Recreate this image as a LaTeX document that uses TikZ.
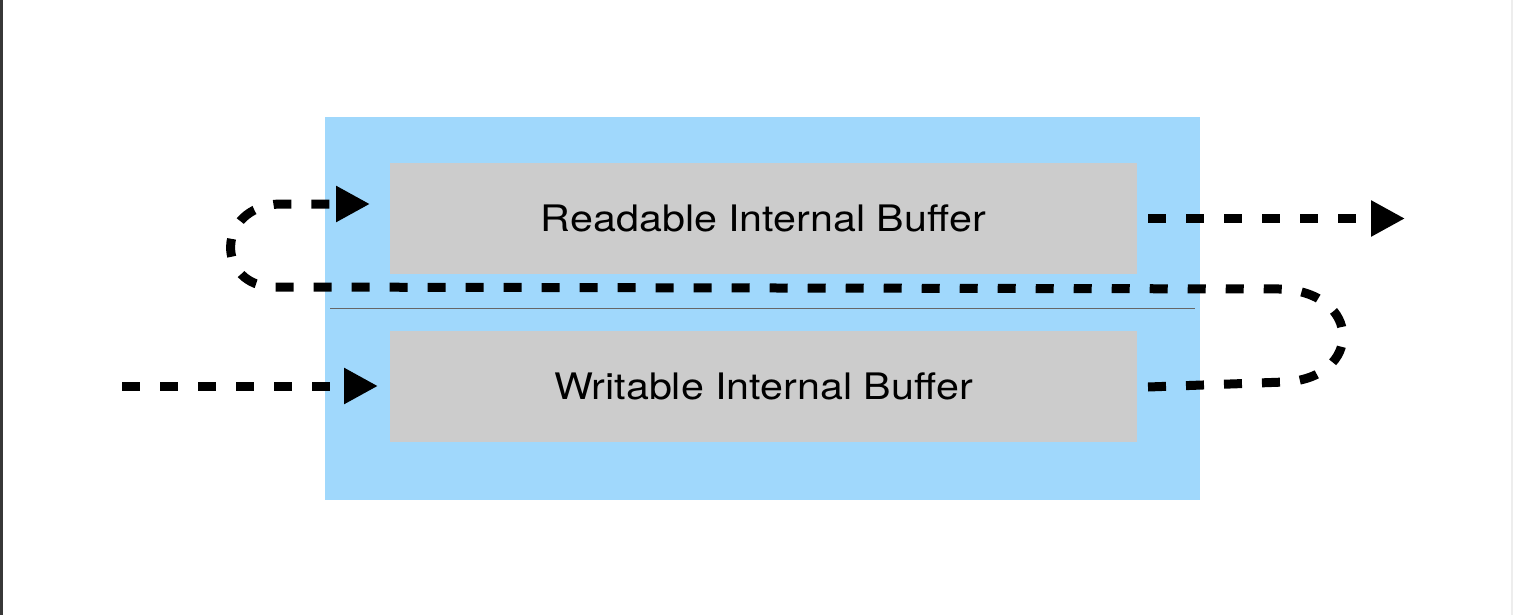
\documentclass[tikz,border=0pt]{standalone}
\usepackage{fontspec}
\setmainfont{TeX Gyre Heros}
\usetikzlibrary{arrows.meta}
\definecolor{skyfill}{RGB}{160,216,252}
\definecolor{buffgray}{RGB}{204,204,204}
\definecolor{edgedark}{RGB}{56,56,56}
\tikzset{
  bluebox/.style={rectangle, fill=skyfill, draw=none, outer sep=0pt, inner sep=0pt, minimum width=875pt, minimum height=383pt},
  buffbox/.style={rectangle, fill=buffgray, draw=none, outer sep=0pt, inner sep=0pt, minimum width=747pt, minimum height=111pt, font=\fontsize{36.5}{40}\selectfont, text=black},
  flowline/.style={line width=9pt, dash pattern=on 18pt off 20pt, black},
  flow/.style={flowline, -{Triangle[length=34pt,width=34pt]}},
  sepline/.style={line width=1pt, draw=black!60}
}
\begin{document}
\begin{tikzpicture}[x=1pt,y=-1pt]
\useasboundingbox (0,0) rectangle (1514,615);
\fill[white] (0,0) rectangle (1514,615);
\fill[edgedark] (0,0) rectangle (3,615);
\fill[black!7] (1511,0) rectangle (1513,615);
\node[bluebox] (outer) at (762.5,308.5) {};
\node[buffbox] (rd) at (763.5,218.5) {\scalebox{1.13}[1]{Readable Internal Buffer}};
\node[buffbox] (wr) at (763.5,386) {\scalebox{1.13}[1]{Writable Internal Buffer}};
\coordinate (s1) at (330,308);
\coordinate (s2) at (1195,308);
\draw[sepline] (s1) -- (s2);
\coordinate (inL) at (122,386);
\coordinate (outR) at (1405,218.5);
\draw[flow] (inL) -- ([xshift=-12pt]wr.west);
\draw[flow] ([xshift=11pt]rd.east) -- (outR);
\draw[flow] ([xshift=11pt,yshift=-1pt]wr.east) -- (1285,382)
  .. controls (1363,378) and (1363,292) .. (1280,289)
  -- (275,287)
  .. controls (215,287) and (215,206) .. (280,204)
  -- ([xshift=-20pt,yshift=14.5pt]rd.west);
\end{tikzpicture}
\end{document}
